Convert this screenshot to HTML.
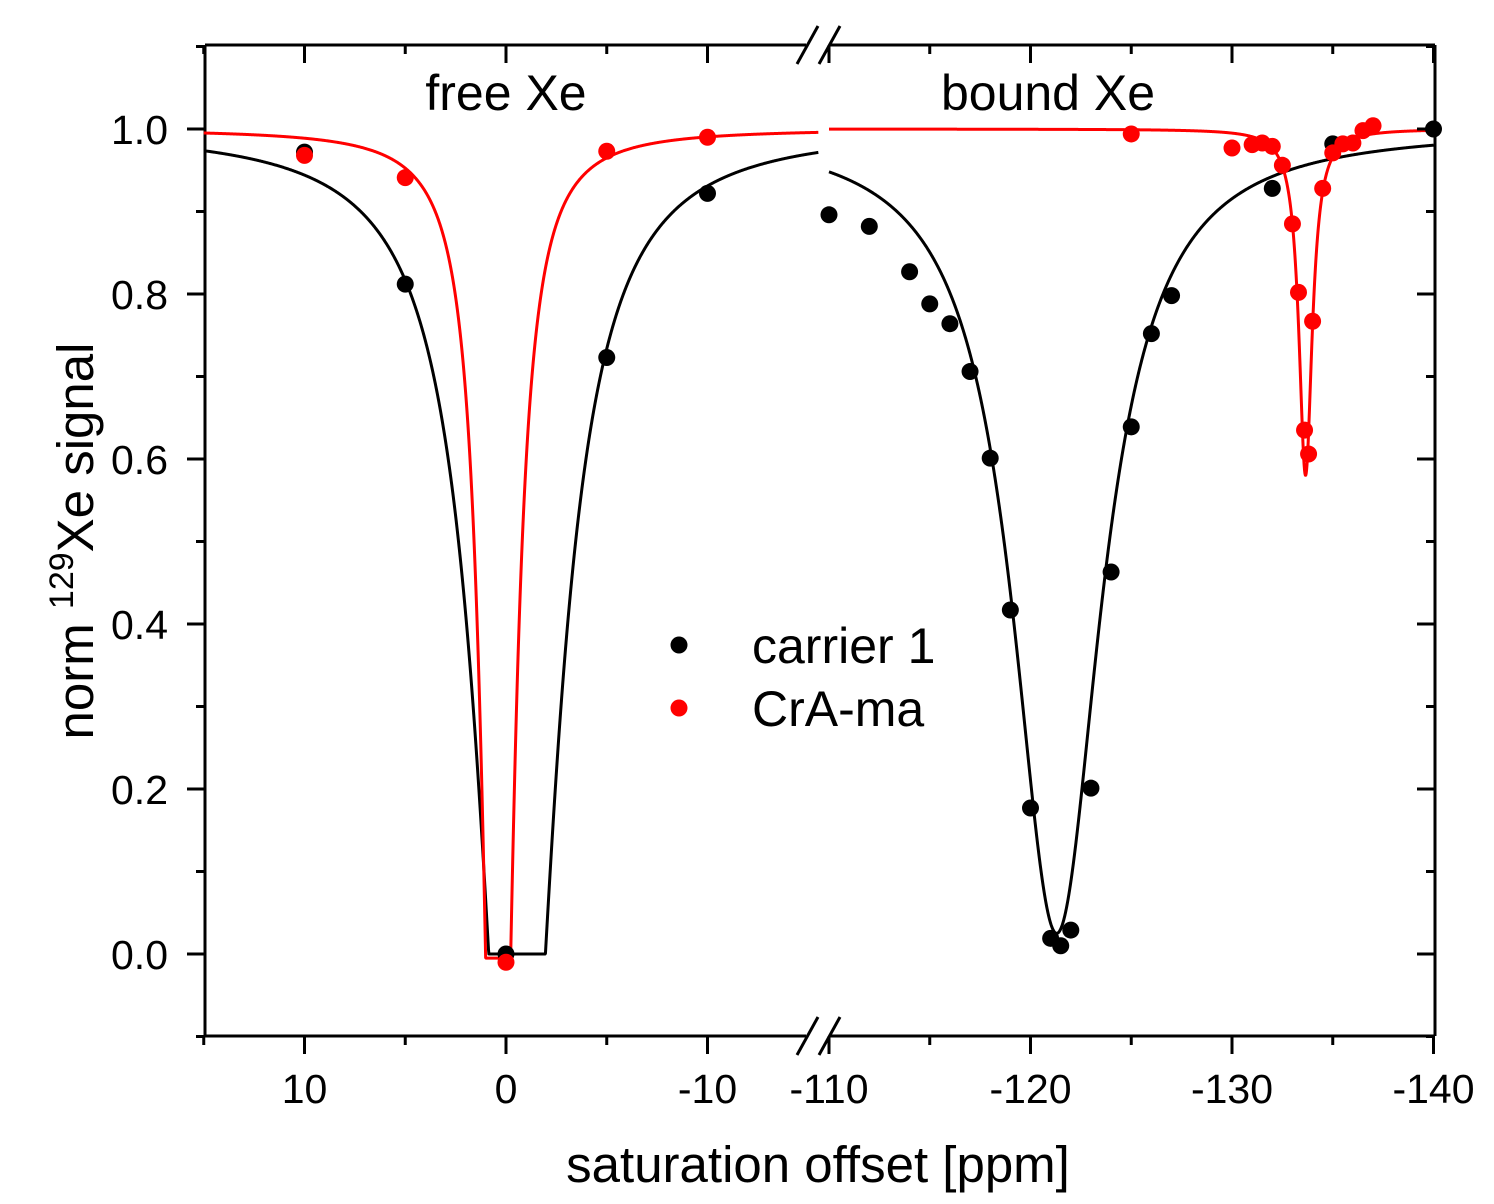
<!DOCTYPE html>
<html><head><meta charset="utf-8"><style>
body{margin:0;background:#fff;}
svg{display:block;font-family:"Liberation Sans",Arial,sans-serif;}
</style></head><body>
<svg id="chart" width="1494" height="1204" viewBox="0 0 1494 1204" xmlns="http://www.w3.org/2000/svg">
<g id="frame"></g>
<g id="curves"></g>
<g id="points"></g>
<g id="ticks"></g>
<text x="506" y="110" font-size="50" text-anchor="middle">free Xe</text>
<text x="1048" y="110" font-size="50" text-anchor="middle">bound Xe</text>
<text x="818" y="1182" font-size="51" text-anchor="middle">saturation offset [ppm]</text>
<text transform="translate(93,541) rotate(-90)" font-size="51" text-anchor="middle">norm <tspan font-size="34" dy="-20">129</tspan><tspan dy="20">Xe signal</tspan></text>
<g>
<circle cx="679" cy="645" r="8.5" fill="#000"/>
<text x="752" y="663" font-size="50">carrier 1</text>
<circle cx="679" cy="708" r="8.5" fill="#f00"/>
<text x="752" y="726" font-size="50">CrA-ma</text>
</g>
</svg>
<script>
// data
const blackLeftX = [10, 5, 0, -5, -10];
const blackLeftY = [0.972, 0.812, 0.0, 0.723, 0.922];
const blackRightX = [-110, -112, -114, -115, -116, -117, -118, -119, -120, -121, -121.5, -122, -123, -124, -125, -126, -127, -132, -135, -140];
const blackRightY = [0.896, 0.882, 0.827, 0.788, 0.764, 0.706, 0.601, 0.417, 0.177, 0.019, 0.010, 0.029, 0.201, 0.463, 0.639, 0.752, 0.798, 0.928, 0.982, 1.0];
const redLeftX = [10, 5, 0, -5, -10];
const redLeftY = [0.968, 0.941, -0.010, 0.973, 0.990];
const redRightX = [-125, -130, -131, -131.5, -132, -132.5, -133, -133.3, -133.6, -133.8, -134, -134.5, -135, -135.5, -136, -136.5, -137];
const redRightY = [0.994, 0.977, 0.981, 0.983, 0.979, 0.956, 0.885, 0.802, 0.635, 0.606, 0.767, 0.928, 0.971, 0.982, 0.983, 0.998, 1.004];
// fit params: [center, amplitude, width, floor, exponent]
const blackLeftFit = [-0.55, 1.44, 2.12, 0, 2];
const redLeftFit = [0.39, 1.6, 0.806, -0.005, 2];
const blackRightFit = [-121.3, 0.975, 2.68, 0, 2];
const redRightFit = [-133.65, 0.42, 0.4, 0, 2];
const yMajor = [0.0, 0.2, 0.4, 0.6, 0.8, 1.0];
const yMinor = [-0.1, 0.1, 0.3, 0.5, 0.7, 0.9, 1.1];
const xLeftMajor = [10, 0, -10];
const xLeftMinor = [15, 5, -5];
const xRightMajor = [-110, -120, -130, -140];
const xRightMinor = [-115, -125, -135];

const NS = 'http://www.w3.org/2000/svg';
const L = 205, R = 1435, T = 45, B = 1036, BREAKL = 806, BREAKR = 830;
function xs(v){ return v > -50 ? 506 + (0 - v) * 20.15 : 829 + (-110 - v) * 20.15; }
function ys(v){ return 954 - v * 825; }
function mk(parent, tag, attrs){
  const e = document.createElementNS(NS, tag);
  for (const k in attrs) e.setAttribute(k, attrs[k]);
  document.getElementById(parent).appendChild(e);
  return e;
}
[[L, T, BREAKL, T], [BREAKR, T, R, T], [L, B, BREAKL, B], [BREAKR, B, R, B], [L, T, L, B], [R, T, R, B]].forEach(s => {
  const e = mk('frame', 'line', {x1: s[0], y1: s[1], x2: s[2], y2: s[3], stroke: '#000', 'stroke-width': 3});
  
  
});
[T, B].forEach(yy => {
  [[797, 818], [819, 840]].forEach(p => {
    const e = mk('frame', 'line', {x1: p[0], y1: yy + 19, x2: p[1], y2: yy - 19, stroke: '#000', 'stroke-width': 3});
    
    
  });
});
function yTick(v, len, label){
  const y = ys(v);
  let e = mk('ticks', 'line', {x1: L - len, y1: y, x2: L, y2: y, stroke: '#000', 'stroke-width': 3});
  
  
  e = mk('ticks', 'line', {x1: R - len, y1: y, x2: R, y2: y, stroke: '#000', 'stroke-width': 3});
  
  
  if (label) {
    const t = mk('ticks', 'text', {x: 168, y: y + 15, 'font-size': 41, 'text-anchor': 'end'});
    t.textContent = v.toFixed(1);
    
    
  }
}
yMajor.forEach(v => yTick(v, 18, true));
yMinor.forEach(v => yTick(v, 9, false));
function xTick(v, len, label){
  const x = xs(v);
  let e = mk('ticks', 'line', {x1: x, y1: B, x2: x, y2: B + len, stroke: '#000', 'stroke-width': 3});
  
  
  e = mk('ticks', 'line', {x1: x, y1: T, x2: x, y2: T + len, stroke: '#000', 'stroke-width': 3});
  
  
  if (label) {
    const t = mk('ticks', 'text', {x: x, y: 1103, 'font-size': 41, 'text-anchor': 'middle'});
    t.textContent = String(v);
    
    
  }
}
xLeftMajor.concat(xRightMajor).forEach(v => xTick(v, 18, true));
xLeftMinor.concat(xRightMinor).forEach(v => xTick(v, 9, false));
function fit(p, v){ return Math.max(p[3], 1 - p[1] / (1 + Math.pow(Math.abs((v - p[0]) / p[2]), p[4]))); }
function curve(p, from, to, color, name){
  let d = '';
  const n = 1500;
  for (let i = 0; i <= n; i++) {
    const v = from + (to - from) * i / n;
    d += (i ? 'L' : 'M') + xs(v).toFixed(2) + ',' + ys(fit(p, v)).toFixed(2);
  }
  const e = mk('curves', 'path', {d: d, fill: 'none', stroke: color, 'stroke-width': 3, 'stroke-linejoin': 'round'});
  
  
}
curve(blackLeftFit, 15, -15.5, '#000', 'fit-carrier-1-free');
curve(redLeftFit, 15, -15.5, '#f00', 'fit-cra-ma-free');
curve(blackRightFit, -110, -140, '#000', 'fit-carrier-1-bound');
curve(redRightFit, -110, -140, '#f00', 'fit-cra-ma-bound');
function pts(X, Y, color, name){
  X.forEach((v, i) => {
    const e = mk('points', 'circle', {cx: xs(v), cy: ys(Y[i]), r: 8.5, fill: color});
    
    
  });
}
pts(blackLeftX, blackLeftY, '#000', 'point-carrier-1');
pts(blackRightX, blackRightY, '#000', 'point-carrier-1');
pts(redLeftX, redLeftY, '#f00', 'point-cra-ma');
pts(redRightX, redRightY, '#f00', 'point-cra-ma');
</script>
</body></html>
